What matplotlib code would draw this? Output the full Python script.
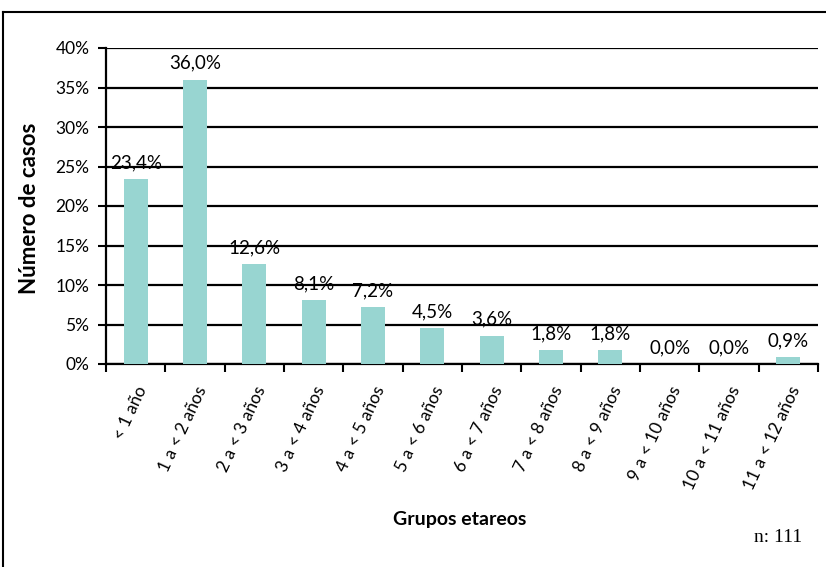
import matplotlib
matplotlib.use('Agg')
import matplotlib.pyplot as plt
from matplotlib.lines import Line2D

grupos = ['< 1 año', '1 a < 2 años', '2 a < 3 años', '3 a < 4 años', '4 a < 5 años',
          '5 a < 6 años', '6 a < 7 años', '7 a < 8 años', '8 a < 9 años',
          '9 a < 10 años', '10 a < 11 años', '11 a < 12 años']
porcentajes = [23.4, 36.0, 12.6, 8.1, 7.2, 4.5, 3.6, 1.8, 1.8, 0.0, 0.0, 0.9]
yticks = [0, 5, 10, 15, 20, 25, 30, 35, 40]

plt.rcParams['font.family'] = ['Lato', 'DejaVu Sans']

fig = plt.figure(figsize=(8.26, 5.67), dpi=100)
ax = fig.add_axes([106 / 826, 1 - 364 / 567, 712 / 826, (364 - 48) / 567])

x = list(range(len(grupos)))
ax.bar(x, porcentajes, width=0.4, color='#98d5d1', zorder=3)
for xi, v in zip(x, porcentajes):
    ax.text(xi, v + 1.0, ('%.1f%%' % v).replace('.', ','), ha='center', va='bottom',
            fontsize=13.5, zorder=4)

ax.set_xlim(-0.5, len(grupos) - 0.5)
ax.set_ylim(0, 40)
ax.set_yticks(yticks)
ax.set_yticklabels(['%d%%' % t for t in yticks], fontsize=12.5)
ax.yaxis.grid(True, color='black', linewidth=1.6, zorder=0)
ax.tick_params(axis='y', length=6, width=1.5, direction='out', pad=6)

ax.set_xticks([i - 0.5 for i in range(len(grupos) + 1)], minor=False)
ax.set_xticklabels([])
ax.set_xticks(x, minor=True)
ax.set_xticklabels(grupos, minor=True, rotation=65, ha='right', rotation_mode='anchor',
                   fontsize=12.5)
ax.tick_params(axis='x', which='major', length=6, width=1.5, direction='out')
ax.tick_params(axis='x', which='minor', length=0, pad=14)

for s in ['top', 'right']:
    ax.spines[s].set_visible(False)
ax.spines['left'].set_linewidth(1.6)
ax.spines['bottom'].set_linewidth(1.6)

fig.text(30 / 826, 1 - 208 / 567, 'Número de casos', rotation=90, ha='center', va='center',
         fontsize=16, fontweight='bold')
fig.text(460 / 826, 1 - 520 / 567, 'Grupos etareos', ha='center', va='center',
         fontsize=14, fontweight='bold')
fig.text(778 / 826, 1 - 537 / 567, 'n: 111', ha='center', va='center',
         fontsize=14, family='Liberation Serif')

# marco de la figura
fig.add_artist(Line2D([3 / 826, 1], [1 - 12 / 567, 1 - 12 / 567], color='black', linewidth=1.5,
                      transform=fig.transFigure))
fig.add_artist(Line2D([3 / 826, 3 / 826], [0, 1 - 12 / 567], color='black', linewidth=1.5,
                      transform=fig.transFigure))

fig.savefig('out.png', dpi=100)
